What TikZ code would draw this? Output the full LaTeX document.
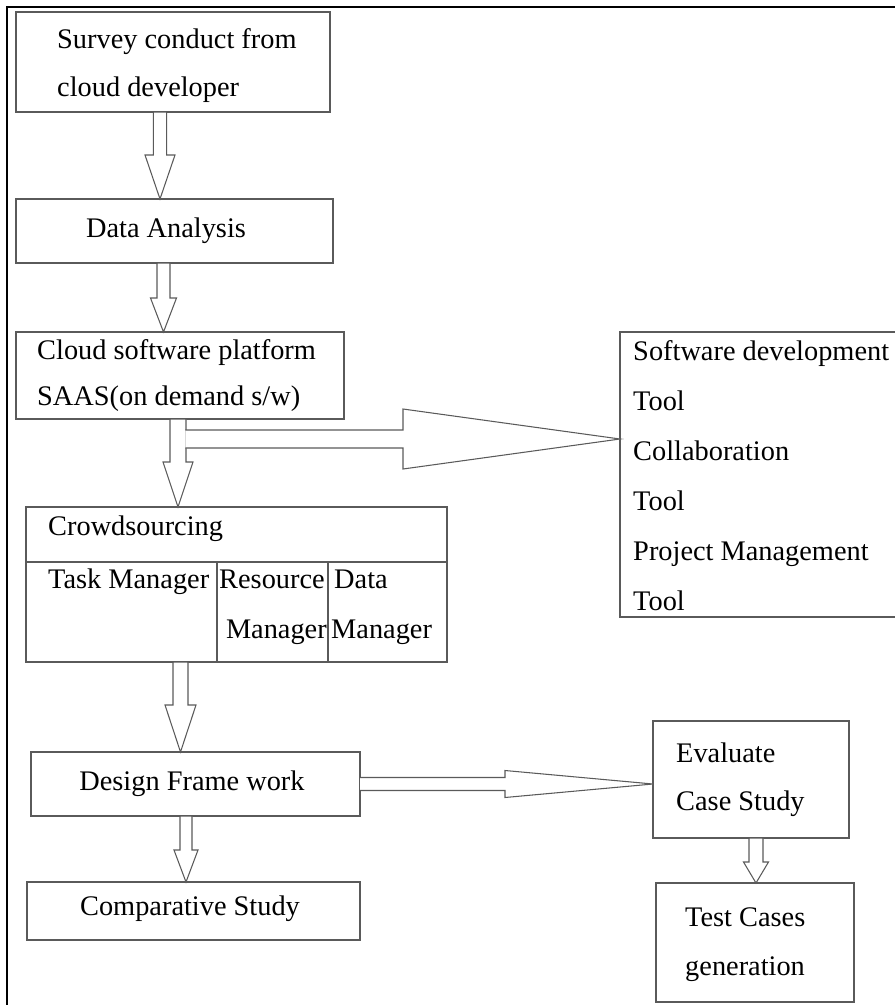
\documentclass[tikz,border=0pt]{standalone}
\usepackage{fontspec}
\setmainfont{Liberation Serif}
\usetikzlibrary{calc,fit}
\definecolor{edgegray}{HTML}{5A5A5A}
\newcommand{\pxu}{0.03cm}
% hollow block arrows: start point, tip point, shaft half, head half, head length
\newcommand{\blockdown}[5]{%
  \filldraw[blk] let \p1=(#1), \p2=(#2) in
    ({\x1-#3*\pxu},\y1) -- ({\x1+#3*\pxu},\y1) -- ({\x1+#3*\pxu},{\y2+#5*\pxu})
    -- ({\x1+#4*\pxu},{\y2+#5*\pxu}) -- (\x1,\y2)
    -- ({\x1-#4*\pxu},{\y2+#5*\pxu}) -- ({\x1-#3*\pxu},{\y2+#5*\pxu}) -- cycle;}
\newcommand{\blockright}[5]{%
  \filldraw[blk] let \p1=(#1), \p2=(#2) in
    (\x1,{\y1+#3*\pxu}) -- ({\x2-#5*\pxu},{\y1+#3*\pxu}) -- ({\x2-#5*\pxu},{\y1+#4*\pxu})
    -- (\x2,\y1) -- ({\x2-#5*\pxu},{\y1-#4*\pxu}) -- ({\x2-#5*\pxu},{\y1-#3*\pxu})
    -- (\x1,{\y1-#3*\pxu});}

\begin{document}
\begin{tikzpicture}[x=0.03cm,y=-0.03cm,
  box/.style={draw=edgegray, line width=1.1pt, inner sep=0pt, outer sep=0pt},
  lbl/.style={font=\fontsize{24.2}{29}\selectfont, inner sep=0pt, anchor=base west},
  clbl/.style={font=\fontsize{24.2}{29}\selectfont, inner sep=0pt, anchor=base},
  blk/.style={draw=edgegray, fill=white, line width=0.9pt, line join=miter}]
  \useasboundingbox (0,0) rectangle (895,1005);
  \clip (0,0) rectangle (895,1005);
  % outer frame
  \draw[line width=2.1pt] (7,1010) -- (7,7) -- (900,7);

  % left column
  \node[box, fit={(16,12) (330,112)}] (survey) {};
  \node[lbl] (survey1) at (57,48) {Survey conduct from};
  \node[lbl] (survey2) at (57,96) {cloud developer};

  \node[box, fit={(16,199) (333,263)}] (data) {};
  \node[clbl] (datatxt) at (166,237) {Data Analysis};

  \node[box, fit={(16,332) (344,419)}] (cloud) {};
  \node[lbl] (cloud1) at (37,359) {Cloud software platform};
  \node[lbl] (cloud2) at (37,405) {SAAS(on demand s/w)};

  \node[box, fit={(26,507) (447,562)}] (crowdtop) {};
  \node[box, fit={(26,562) (217,662)}] (task) {};
  \node[box, fit={(217,562) (328,662)}] (resource) {};
  \node[box, fit={(328,562) (447,662)}] (datamgr) {};
  \node[lbl] (crowdtxt) at (48,535) {Crowdsourcing};
  \node[lbl] (tasktxt) at (48,588) {Task Manager};
  \node[lbl] (res1) at (219,588) {Resource};
  \node[lbl, anchor=base east] (res2) at (327,638) {Manager};
  \node[lbl] (dm1) at (334,588) {Data};
  \node[lbl] (dm2) at (331,638) {Manager};

  \node[box, fit={(31,752) (360,816)}] (design) {};
  \node[clbl] (designtxt) at (192,790) {Design Frame work};

  \node[box, fit={(27,882) (360,940)}] (compare) {};
  \node[clbl] (comparetxt) at (190,915) {Comparative Study};

  % right column
  \node[box, fit={(620,332) (900,617)}] (tools) {};
  \node[lbl] (tool1) at (633,360) {Software development};
  \node[lbl] (tool2) at (633,410) {Tool};
  \node[lbl] (tool3) at (633,460) {Collaboration};
  \node[lbl] (tool4) at (633,510) {Tool};
  \node[lbl] (tool5) at (633,560) {Project Management};
  \node[lbl] (tool6) at (633,610) {Tool};

  \node[box, fit={(653,721) (849,838)}] (evaluate) {};
  \node[lbl] (eval1) at (676,762) {Evaluate};
  \node[lbl] (eval2) at (676,810) {Case Study};

  \node[box, fit={(656,883) (854,1002)}] (test) {};
  \node[lbl] (test1) at (685,926) {Test Cases};
  \node[lbl] (test2) at (685,975) {generation};

  % block arrows
  \blockdown{160,0 |- survey.south}{160,0 |- data.north}{6.7}{15}{44}
  \blockdown{163.5,0 |- data.south}{163.5,0 |- cloud.north}{6.5}{13}{34}
  \blockdown{178,0 |- cloud.south}{178,0 |- crowdtop.north}{8}{15}{45}
  \coordinate (fork) at (185.3,439);
  \blockright{fork}{tools.west}{9}{30}{217}
  \blockdown{180.5,0 |- task.south}{180.5,0 |- design.north}{7.5}{15.5}{47}
  \blockright{design.east}{evaluate.west}{6.5}{13.5}{148}
  \blockdown{186,0 |- design.south}{186,0 |- compare.north}{6}{12}{32}
  \blockdown{756,0 |- evaluate.south}{756,0 |- test.north}{7}{12.5}{21}
\end{tikzpicture}
\end{document}
